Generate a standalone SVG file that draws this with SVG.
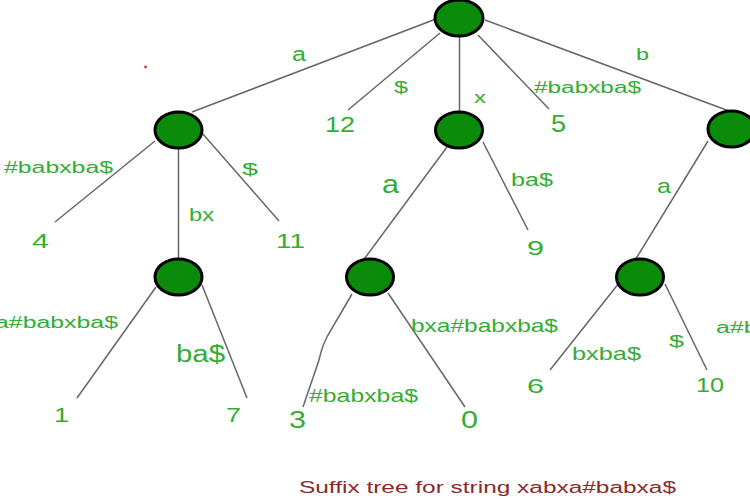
<svg xmlns="http://www.w3.org/2000/svg" width="750" height="500" viewBox="0 0 750 500">
<style>
.node{fill:#0a8c0a;stroke:#000;stroke-width:3}
.edge{stroke:#666;stroke-width:1.5;fill:none}
text{font-family:"Liberation Sans",Arial,sans-serif;fill:#33ad33}
.cap{fill:#8a2a2a}
</style>
<rect width="750" height="500" fill="#fff"/>
<circle cx="145.5" cy="67" r="1.4" fill="#e03030"/>
<g id="connectors">
<line class="edge" x1="436" y1="19" x2="192" y2="112"/>
<line class="edge" x1="440" y1="33" x2="348" y2="110"/>
<line class="edge" x1="459.5" y1="36" x2="459.5" y2="112"/>
<line class="edge" x1="478" y1="35" x2="549" y2="109"/>
<line class="edge" x1="485" y1="20" x2="729" y2="111"/>
<line class="edge" x1="155" y1="141" x2="55" y2="222"/>
<line class="edge" x1="178.5" y1="148" x2="178.5" y2="259"/>
<line class="edge" x1="202" y1="133" x2="279" y2="221"/>
<line class="edge" x1="447" y1="147" x2="362" y2="262"/>
<line class="edge" x1="483" y1="142" x2="528" y2="230"/>
<line class="edge" x1="708" y1="141" x2="634" y2="262"/>
<line class="edge" x1="156" y1="287" x2="77" y2="398"/>
<line class="edge" x1="202" y1="285" x2="247" y2="398"/>
<path class="edge" d="M352,294 L328,335 Q322,346 319,360 L303,407"/>
<line class="edge" x1="388" y1="293" x2="465" y2="407"/>
<line class="edge" x1="619" y1="283" x2="550" y2="370"/>
<line class="edge" x1="665" y1="284" x2="707" y2="370"/>
<g id="edge-labels">
<text x="292" y="61" font-size="20" textLength="14" lengthAdjust="spacingAndGlyphs">a</text>
<text x="394" y="93" font-size="17" textLength="14" lengthAdjust="spacingAndGlyphs">$</text>
<text x="474" y="103" font-size="16" textLength="12" lengthAdjust="spacingAndGlyphs">x</text>
<text x="534" y="93" font-size="16" textLength="107" lengthAdjust="spacingAndGlyphs">#babxba$</text>
<text x="636" y="60" font-size="16" textLength="13" lengthAdjust="spacingAndGlyphs">b</text>
<text x="4" y="173" font-size="16" textLength="109" lengthAdjust="spacingAndGlyphs">#babxba$</text>
<text x="189" y="221" font-size="17.5" textLength="25" lengthAdjust="spacingAndGlyphs">bx</text>
<text x="242" y="175" font-size="17" textLength="16" lengthAdjust="spacingAndGlyphs">$</text>
<text x="382" y="193" font-size="25" textLength="17" lengthAdjust="spacingAndGlyphs">a</text>
<text x="511" y="186" font-size="17.5" textLength="42" lengthAdjust="spacingAndGlyphs">ba$</text>
<text x="657" y="193" font-size="21" textLength="14" lengthAdjust="spacingAndGlyphs">a</text>
<text x="-5" y="328" font-size="16" textLength="123" lengthAdjust="spacingAndGlyphs">a#babxba$</text>
<text x="176" y="362" font-size="23" textLength="49" lengthAdjust="spacingAndGlyphs">ba$</text>
<text x="411" y="332" font-size="18.5" textLength="147" lengthAdjust="spacingAndGlyphs">bxa#babxba$</text>
<text x="309" y="402" font-size="18.5" textLength="109" lengthAdjust="spacingAndGlyphs">#babxba$</text>
<text x="572" y="360" font-size="18.5" textLength="69" lengthAdjust="spacingAndGlyphs">bxba$</text>
<text x="669" y="347" font-size="17" textLength="15" lengthAdjust="spacingAndGlyphs">$</text>
<text x="716" y="333" font-size="16" textLength="123" lengthAdjust="spacingAndGlyphs">a#babxba$</text>
</g>
</g>
<g id="root"><ellipse class="node" cx="459" cy="18" rx="24" ry="18"/></g>
<g id="node-a"><ellipse class="node" cx="178.5" cy="130" rx="23.5" ry="18"/></g>
<g id="node-x"><ellipse class="node" cx="459" cy="130" rx="23.5" ry="18"/></g>
<g id="node-b"><ellipse class="node" cx="731.5" cy="129" rx="23.5" ry="18"/></g>
<g id="node-abx"><ellipse class="node" cx="178.5" cy="277" rx="23.5" ry="18"/></g>
<g id="node-xa"><ellipse class="node" cx="370" cy="277" rx="23.5" ry="18"/></g>
<g id="node-ba"><ellipse class="node" cx="640" cy="277" rx="23.5" ry="18"/></g>
<g id="leaf-12"><text x="325" y="132" font-size="22" textLength="30" lengthAdjust="spacingAndGlyphs">12</text></g>
<g id="leaf-5"><text x="551" y="132" font-size="23" textLength="15" lengthAdjust="spacingAndGlyphs">5</text></g>
<g id="leaf-4"><text x="32" y="248" font-size="21" textLength="17" lengthAdjust="spacingAndGlyphs">4</text></g>
<g id="leaf-11"><text x="276" y="248" font-size="21" textLength="29" lengthAdjust="spacingAndGlyphs">11</text></g>
<g id="leaf-9"><text x="527" y="255" font-size="21" textLength="17" lengthAdjust="spacingAndGlyphs">9</text></g>
<g id="leaf-1"><text x="54" y="422" font-size="21" textLength="15" lengthAdjust="spacingAndGlyphs">1</text></g>
<g id="leaf-7"><text x="226" y="422" font-size="21" textLength="15" lengthAdjust="spacingAndGlyphs">7</text></g>
<g id="leaf-3"><text x="289" y="428" font-size="23" textLength="17" lengthAdjust="spacingAndGlyphs">3</text></g>
<g id="leaf-0"><text x="461" y="428" font-size="23" textLength="17" lengthAdjust="spacingAndGlyphs">0</text></g>
<g id="leaf-6"><text x="527" y="393" font-size="21" textLength="17" lengthAdjust="spacingAndGlyphs">6</text></g>
<g id="leaf-10"><text x="696" y="392" font-size="21" textLength="28" lengthAdjust="spacingAndGlyphs">10</text></g>
<text class="cap" x="299" y="493" font-size="16" textLength="377" lengthAdjust="spacingAndGlyphs">Suffix tree for string xabxa#babxa$</text>
</svg>
